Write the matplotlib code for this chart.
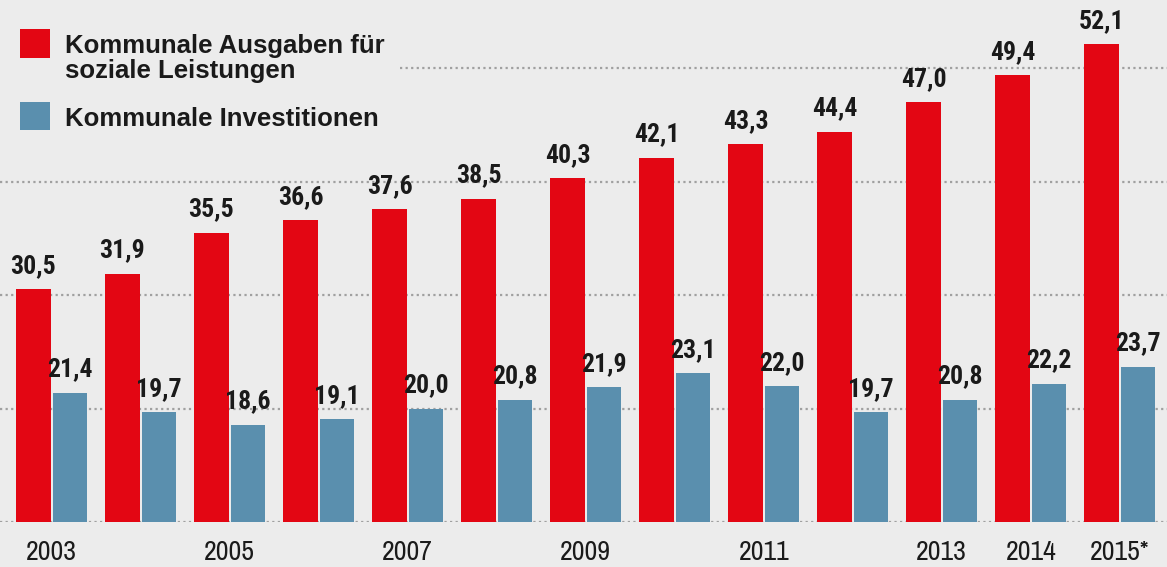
import matplotlib.pyplot as plt
import numpy as np
from matplotlib.patches import Rectangle

years = ['2003', '2004', '2005', '2006', '2007', '2008', '2009',
         '2010', '2011', '2012', '2013', '2014', '2015*']
yearLabels = ['2003', '', '2005', '', '2007', '', '2009',
              '', '2011', '', '2013', '2014', '2015*']
sozial = [30.5, 31.9, 35.5, 36.6, 37.6, 38.5, 40.3,
          42.1, 43.3, 44.4, 47.0, 49.4, 52.1]
invest = [21.4, 19.7, 18.6, 19.1, 20.0, 20.8, 21.9,
          23.1, 22.0, 19.7, 20.8, 22.2, 23.7]
legendNames = ['Kommunale Ausgaben für', 'soziale Leistungen', 'Kommunale Investitionen']

bg = '#ececec'
red = '#e30613'
blue = '#5a8fae'
ink = '#1a1a1a'

plt.rcParams['font.family'] = ['Liberation Sans', 'DejaVu Sans']
condBold = ['Roboto Condensed', 'Archivo Narrow', 'Liberation Sans Narrow', 'Liberation Sans']
narrow = ['Archivo Narrow', 'Liberation Sans Narrow', 'Liberation Sans']

fig = plt.figure(figsize=(11.67, 5.67), dpi=100, facecolor=bg)
ax = fig.add_axes([0, 0.079, 1, 0.921], facecolor=bg)

x = np.arange(len(years))
w = 0.385
ax.bar(x - 0.205, sozial, w, color=red, zorder=3)
ax.bar(x + 0.205, invest, w, color=blue, zorder=3)

def fmt(v):
    return ('%.1f' % v).replace('.', ',')

for i in range(len(years)):
    ax.annotate(fmt(sozial[i]), (x[i] - 0.205, sozial[i]), xytext=(0, 8),
                textcoords='offset points', ha='center', va='bottom',
                fontsize=18.5, fontweight='bold', family=condBold, color=ink, zorder=4)
    ax.annotate(fmt(invest[i]), (x[i] + 0.205, invest[i]), xytext=(0, 8),
                textcoords='offset points', ha='center', va='bottom',
                fontsize=18.5, fontweight='bold', family=condBold, color=ink, zorder=4)

ax.set_ylim(10, 56)
ax.set_xlim(-0.58, 12.53)
ax.set_yticks([10, 20, 30, 40, 50])
ax.yaxis.grid(True, color='#a0a0a0', linestyle=(0, (1, 1.5)), linewidth=1.6, zorder=0)
ax.set_axisbelow(True)
ax.tick_params(axis='y', left=False, labelleft=False)
ax.set_xticks(x)
ax.set_xticklabels(yearLabels, fontsize=20, color=ink, family=narrow)
ax.tick_params(axis='x', length=0, pad=13)
for s in ax.spines.values():
    s.set_visible(False)

# legend drawn by hand: square sits next to the first line of each entry
fig.patches.append(Rectangle((0, 0.76), 0.343, 0.205, transform=fig.transFigure,
                             facecolor=bg, edgecolor='none', zorder=1))
fig.patches.append(Rectangle((0.0171, 0.8977), 0.0257, 0.0511, transform=fig.transFigure,
                             facecolor=red, edgecolor='none', zorder=2))
fig.patches.append(Rectangle((0.0171, 0.7707), 0.0257, 0.0494, transform=fig.transFigure,
                             facecolor=blue, edgecolor='none', zorder=2))
legendY = [0.9065, 0.8624, 0.7778]
for name, yy in zip(legendNames, legendY):
    fig.text(0.0557, yy, name, fontsize=18.5, fontweight='bold', color=ink,
             va='baseline', ha='left', zorder=3)

fig.savefig('out.png', dpi=100, facecolor=bg)
